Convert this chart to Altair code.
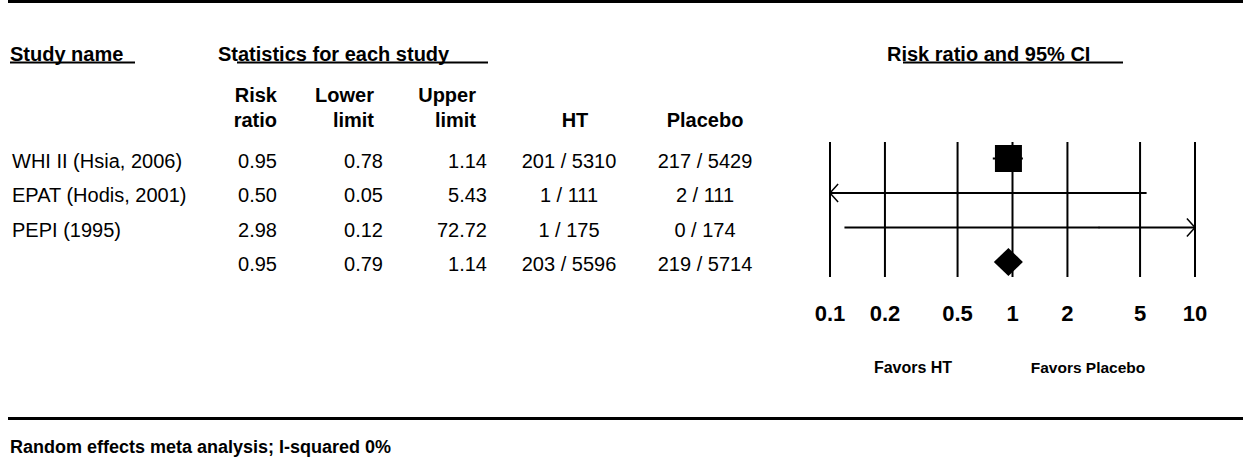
import altair as alt
import numpy as np
import pandas as pd

# ---- study table -------------------------------------------------------
studies = ["WHI II (Hsia, 2006)", "EPAT (Hodis, 2001)", "PEPI (1995)"]
risk_ratio = [0.95, 0.50, 2.98]
lower_limit = [0.78, 0.05, 0.12]
upper_limit = [1.14, 5.43, 72.72]
ht_events = [201, 1, 1]
ht_total = [5310, 111, 175]
placebo_events = [217, 2, 0]
placebo_total = [5429, 111, 174]

# pooled (random effects) result
pooled_rr = 0.95
pooled_lower = 0.79
pooled_upper = 1.14
pooled_ht = (203, 5596)
pooled_placebo = (219, 5714)

tick_values = [0.1, 0.2, 0.5, 1, 2, 5, 10]
tick_labels = ["0.1", "0.2", "0.5", "1", "2", "5", "10"]

FONT = "Liberation Sans"
AXIS_MIN, AXIS_MAX = 0.1, 10

# ---- derived tables ----------------------------------------------------
table = pd.DataFrame({
    "row": [0, 1, 2, 3],
    "study": studies + [""],
    "rr": risk_ratio + [pooled_rr],
    "lower": lower_limit + [pooled_lower],
    "upper": upper_limit + [pooled_upper],
    "ht": [f"{e} / {n}" for e, n in zip(ht_events + [pooled_ht[0]], ht_total + [pooled_ht[1]])],
    "placebo": [f"{e} / {n}" for e, n in zip(placebo_events + [pooled_placebo[0]],
                                             placebo_total + [pooled_placebo[1]])],
})

st = table.iloc[:3].copy()
# inverse-variance weight from the confidence interval -> marker area
se = (np.log(st["upper"]) - np.log(st["lower"])) / (2 * 1.959964)
st["weight"] = 1 / se ** 2
st["lo_plot"] = st["lower"].clip(lower=AXIS_MIN)
st["hi_plot"] = st["upper"].clip(upper=AXIS_MAX)
left_arrows = pd.DataFrame({"x": AXIS_MIN, "row": st.loc[st["lower"] < AXIS_MIN, "row"]})
right_arrows = pd.DataFrame({"x": AXIS_MAX, "row": st.loc[st["upper"] > AXIS_MAX, "row"]})

ROW_TOP, ROW_BOTTOM = 158.5, 262
row_px = (ROW_BOTTOM - ROW_TOP) / 3
half = 14 / row_px
diamond = pd.DataFrame({
    "x": [pooled_lower, pooled_rr, pooled_upper],
    "y": [3, 3 - half, 3],
    "y2": [3, 3 + half, 3],
})
ticks = pd.DataFrame({"v": tick_values, "label": tick_labels})

xs = alt.Scale(type="log", domain=[AXIS_MIN, AXIS_MAX], range=[830, 1195])
ys = alt.Scale(domain=[0, 3], range=[ROW_TOP, ROW_BOTTOM], zero=False, nice=False)
X = lambda f: alt.X(f, scale=xs, axis=None)
Y = lambda f: alt.Y(f, scale=ys, axis=None)

one = pd.DataFrame({"k": [0]})


def label(text, x, y, size=20, bold=True, align="left", line_height=24.5):
    return alt.Chart(pd.DataFrame({"label": [text]})).mark_text(
        align=align, baseline="alphabetic", font=FONT, fontSize=size,
        fontWeight="bold" if bold else "normal", color="black",
        lineBreak="\n", lineHeight=line_height,
    ).encode(x=alt.value(x), y=alt.value(y), text="label:N")


def hline(x1, x2, y, width=2):
    return alt.Chart(one).mark_rule(color="black", strokeWidth=width).encode(
        x=alt.value(x1), x2=alt.value(x2), y=alt.value(y))


def column(field, x, align, fmt=None):
    txt = alt.Text(field, format=fmt) if fmt else alt.Text(field + ":N")
    return alt.Chart(table).mark_text(
        align=align, baseline="alphabetic", dy=9, font=FONT, fontSize=20, color="black"
    ).encode(x=alt.value(x), y=Y("row:Q"), text=txt)


# ---- forest plot -------------------------------------------------------
grid = alt.Chart(ticks).mark_rule(color="black", strokeWidth=2).encode(
    x=X("v:Q"), y=alt.value(142), y2=alt.value(277))
tick_text = alt.Chart(ticks).mark_text(
    align="center", baseline="alphabetic", font=FONT, fontSize=22, fontWeight="bold", color="black"
).encode(x=X("v:Q"), y=alt.value(321), text="label:N")

ci = alt.Chart(st).mark_rule(color="black", strokeWidth=2).encode(
    x=X("lo_plot:Q"), x2="hi_plot:Q", y=Y("row:Q"))
squares = alt.Chart(st).mark_square(color="black", opacity=1).encode(
    x=X("rr:Q"), y=Y("row:Q"),
    size=alt.Size("weight:Q", scale=alt.Scale(domain=[0, float(st["weight"].max())], range=[0, 729]),
                  legend=None))
arrow_l = alt.Chart(left_arrows).mark_point(
    shape="M0.9,-1L0,0L0.9,1", filled=False, color="black", strokeWidth=1.5, size=324, opacity=1
).encode(x=X("x:Q"), y=Y("row:Q"))
arrow_r = alt.Chart(right_arrows).mark_point(
    shape="M-0.9,-1L0,0L-0.9,1", filled=False, color="black", strokeWidth=1.5, size=324, opacity=1
).encode(x=X("x:Q"), y=Y("row:Q"))
summary = alt.Chart(diamond).mark_area(color="black", opacity=1).encode(
    x=X("x:Q"), y=Y("y:Q"), y2="y2:Q")

layers = [
    hline(8, 1243, 1.5, 3),
    hline(8, 1243, 418.5, 3),
    label("Study name", 10, 61),
    hline(10, 135, 62.5),
    label("Statistics for each study", 218, 61),
    hline(237, 488, 62.5),
    label("Risk ratio and 95% CI", 887, 60.5),
    hline(903, 1123, 62.5),
    label("Risk\nratio", 277, 102, align="right"),
    label("Lower\nlimit", 374, 102, align="right"),
    label("Upper\nlimit", 476, 102, align="right"),
    label("HT", 575, 127, align="center"),
    label("Placebo", 705, 127, align="center"),
    column("study", 12, "left"),
    column("rr", 277, "right", ".2f"),
    column("lower", 383, "right", ".2f"),
    column("upper", 487, "right", ".2f"),
    column("ht", 569, "center"),
    column("placebo", 705, "center"),
    grid, ci, squares, arrow_l, arrow_r, summary, tick_text,
    label("Favors HT", 913, 373, size=16, align="center"),
    label("Favors Placebo", 1088, 373, size=15.5, align="center"),
    label("Random effects meta analysis; I-squared 0%", 10, 453, size=18),
]

chart = alt.layer(*layers).properties(
    width=1243, height=461, padding=0, autosize="none", background="white"
).configure_view(stroke=None)

chart.save("out.html", embed_options={"renderer": "svg", "actions": False})
